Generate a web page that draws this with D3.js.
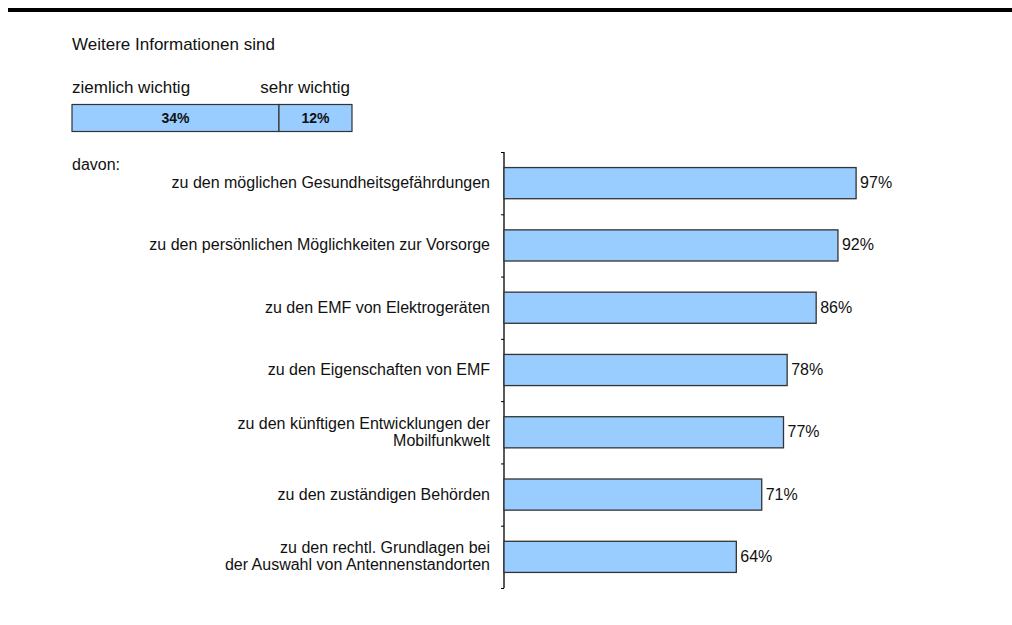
<!DOCTYPE html>
<html><head><meta charset="utf-8">
<script src="https://cdn.jsdelivr.net/npm/d3@7"></script>
<style>body{margin:0;background:#fff;} text{font-family:"Liberation Sans",Arial,sans-serif;fill:#111;}</style>
</head><body>
<svg id="c" width="1012" height="625"></svg>
<script>
const categories = [
  ["zu den möglichen Gesundheitsgefährdungen"],
  ["zu den persönlichen Möglichkeiten zur Vorsorge"],
  ["zu den EMF von Elektrogeräten"],
  ["zu den Eigenschaften von EMF"],
  ["zu den künftigen Entwicklungen der", "Mobilfunkwelt"],
  ["zu den zuständigen Behörden"],
  ["zu den rechtl. Grundlagen bei", "der Auswahl von Antennenstandorten"]
];
const values = [97, 92, 86, 78, 77, 71, 64];
const stackLabels = ["ziemlich wichtig", "sehr wichtig"];
const stackValues = [34, 12];

const svg = d3.select("#c");
const fill = "#99CCFF", stroke = "#333";

// top rule
svg.append("rect").attr("x", 8).attr("y", 8).attr("width", 1004).attr("height", 4).attr("fill", "#000");

svg.append("text").attr("x", 72).attr("y", 50).attr("font-size", 17).text("Weitere Informationen sind");

// stacked bar
const xs = d3.scaleLinear().domain([0, 46]).range([72, 352]);
let cum = 0;
const segs = stackValues.map(v => { const s = {v, x0: cum, x1: cum + v}; cum += v; return s; });
svg.selectAll("rect.seg").data(segs).enter().append("rect").attr("class", "seg")
  .attr("x", d => xs(d.x0)).attr("y", 104.5).attr("width", d => xs(d.x1) - xs(d.x0)).attr("height", 27)
  .attr("fill", fill).attr("stroke", stroke).attr("stroke-width", 1.2);
svg.selectAll("text.segv").data(segs).enter().append("text").attr("class", "segv")
  .attr("x", d => (xs(d.x0) + xs(d.x1)) / 2).attr("y", 123).attr("text-anchor", "middle")
  .attr("font-size", 14).attr("font-weight", "bold").text(d => d.v + "%");
svg.append("text").attr("x", 72).attr("y", 93).attr("font-size", 17).text(stackLabels[0]);
svg.append("text").attr("x", 350).attr("y", 93).attr("font-size", 17).attr("text-anchor", "end").text(stackLabels[1]);

svg.append("text").attr("x", 72).attr("y", 170).attr("font-size", 16).text("davon:");

// main chart
const x = d3.scaleLinear().domain([0, 100]).range([504, 867]);
const y = d3.scaleBand().domain(d3.range(values.length)).range([152, 588]).paddingInner(0.5).paddingOuter(0.25);

const axis = svg.append("g").attr("transform", "translate(504,0)")
  .call(d3.axisLeft(d3.scaleLinear().domain([0, 7]).range([152, 588])).ticks(7).tickSize(3).tickFormat(""));
axis.select(".domain").attr("stroke", "#000").attr("stroke-width", 1.3).attr("d", "M0,152V588");
axis.selectAll(".tick line").attr("stroke", "#000");

svg.selectAll("rect.bar").data(values).enter().append("rect").attr("class", "bar")
  .attr("x", x(0)).attr("y", (d, i) => y(i)).attr("width", d => x(d) - x(0)).attr("height", y.bandwidth())
  .attr("fill", fill).attr("stroke", stroke).attr("stroke-width", 1.3);

svg.selectAll("text.val").data(values).enter().append("text").attr("class", "val")
  .attr("x", d => x(d) + 4).attr("y", (d, i) => y(i) + y.bandwidth() / 2 + 5)
  .attr("font-size", 16).text(d => d + "%");

categories.forEach((lines, i) => {
  const cy = y(i) + y.bandwidth() / 2;
  const lh = 17;
  const t = svg.append("text").attr("text-anchor", "end").attr("font-size", 16);
  lines.forEach((l, j) => {
    t.append("tspan").attr("x", 490).attr("y", cy + 5 + (j - (lines.length - 1) / 2) * lh).text(l);
  });
});
</script>
</body></html>
